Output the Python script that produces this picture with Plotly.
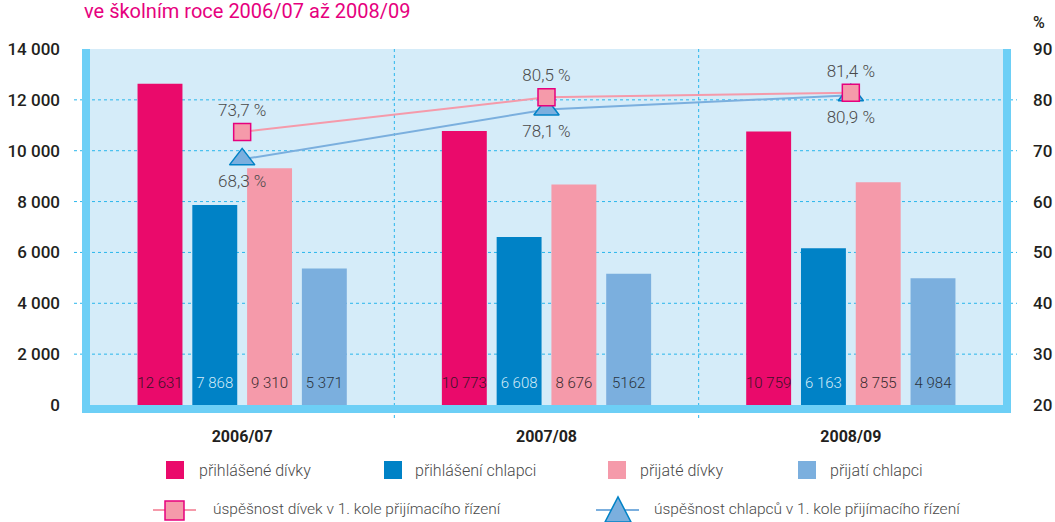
import plotly.graph_objects as go

categories = ["2006/07", "2007/08", "2008/09"]
girls_applied = [12631, 10773, 10759]
boys_applied = [7868, 6608, 6163]
girls_admitted = [9310, 8676, 8755]
boys_admitted = [5371, 5162, 4984]
girls_applied_lbl = ["12 631", "10 773", "10 759"]
boys_applied_lbl = ["7 868", "6 608", "6 163"]
girls_admitted_lbl = ["9 310", "8 676", "8 755"]
boys_admitted_lbl = ["5 371", "5162", "4 984"]
girls_success = [73.7, 80.5, 81.4]
boys_success = [68.3, 78.1, 80.9]
girls_success_lbl = ["73,7 %", "80,5 %", "81,4 %"]
boys_success_lbl = ["68,3 %", "78,1 %", "80,9 %"]
left_ticks = [0, 2000, 4000, 6000, 8000, 10000, 12000, 14000]
left_tick_lbl = ["0", "2 000", "4 000", "6 000", "8 000", "10 000", "12 000", "14 000"]
right_ticks = [20, 30, 40, 50, 60, 70, 80, 90]
legend_bar_names = ["přihlášené dívky", "přihlášení chlapci", "přijaté dívky", "přijatí chlapci"]
legend_line_names = ["úspěšnost dívek v 1. kole přijímacího řízení",
                     "úspěšnost chlapců v 1. kole přijímacího řízení"]

MAGENTA = "#ea0a6b"
BLUE = "#0082c6"
PINK = "#f59aaa"
LBLUE = "#7bafde"
BG = "#d5ecf9"
CYAN = "#6dcff6"
GRID = "#29b6ec"
TXT = "#4a4a4a"
DARK = "#231f20"
FONT = "Roboto, sans-serif"

W, H = 1055, 522
L, R, T, B = 90, 1003, 49, 405
PW, PH = R - L, B - T
BARGAP, GROUPGAP = 0.28, 0.18
LABEL_Y = 826  # height (in axis units) at which in-bar value labels sit


def px(x):
    return (x - L) / PW


def py(y):
    return (B - y) / PH


fig = go.Figure()
xi = list(range(len(categories)))

bar_specs = [
    (girls_applied, girls_applied_lbl, MAGENTA, "#3b1328"),
    (boys_applied, boys_applied_lbl, BLUE, "#d2ebf8"),
    (girls_admitted, girls_admitted_lbl, PINK, "#3a2a2e"),
    (boys_admitted, boys_admitted_lbl, LBLUE, "#2a3440"),
]
for (vals, lbls, col, tcol), name in zip(bar_specs, legend_bar_names):
    fig.add_trace(go.Bar(
        x=xi, y=vals, name=name, marker=dict(color=col, line=dict(width=0)),
        showlegend=False, hoverinfo="y",
    ))

# value labels near the bottom of each bar, aligned with the grouped bar slots
n = len(bar_specs)
slot = (1 - BARGAP) / n
for k, (vals, lbls, col, tcol) in enumerate(bar_specs):
    fig.add_trace(go.Scatter(
        x=[i + (k - (n - 1) / 2) * slot for i in xi], y=[LABEL_Y] * len(xi),
        mode="text", text=lbls, textposition="middle center",
        textfont=dict(family=FONT, size=15, color=tcol, weight=300),
        showlegend=False, hoverinfo="skip", cliponaxis=False,
    ))

fig.add_trace(go.Scatter(
    x=xi, y=boys_success, yaxis="y2", mode="lines+markers+text",
    line=dict(color=LBLUE, width=2),
    marker=dict(symbol="triangle-up", size=22, color=LBLUE, line=dict(color=BLUE, width=1.5)),
    text=boys_success_lbl, textposition="bottom center",
    textfont=dict(family=FONT, size=17, color=TXT, weight=300), showlegend=False, cliponaxis=False,
))
fig.add_trace(go.Scatter(
    x=xi, y=girls_success, yaxis="y2", mode="lines+markers+text",
    line=dict(color=PINK, width=2),
    marker=dict(symbol="square", size=17, color=PINK, line=dict(color="#e6007e", width=1.5)),
    text=girls_success_lbl, textposition="top center",
    textfont=dict(family=FONT, size=17, color=TXT, weight=300), showlegend=False, cliponaxis=False,
))

shapes = []
# horizontal dotted gridlines
for v in left_ticks[1:-1]:
    yy = py(B - v / 14000 * PH)
    shapes.append(dict(type="line", xref="paper", yref="paper", x0=px(74), x1=px(1017),
                       y0=yy, y1=yy, line=dict(color=GRID, width=1, dash="dot"), layer="below"))
# vertical dotted category separators
for xv in [0.5, 1.5]:
    shapes.append(dict(type="line", xref="x", yref="paper", x0=xv, x1=xv,
                       y0=1, y1=py(419), line=dict(color=GRID, width=1, dash="dot"), layer="below"))
# thick frame bars
shapes.append(dict(type="rect", xref="paper", yref="paper", x0=px(82), x1=px(90), y0=py(413), y1=1,
                   fillcolor=CYAN, line=dict(width=0), layer="above"))
shapes.append(dict(type="rect", xref="paper", yref="paper", x0=px(1003), x1=px(1011), y0=py(413), y1=1,
                   fillcolor=CYAN, line=dict(width=0), layer="above"))
shapes.append(dict(type="rect", xref="paper", yref="paper", x0=px(82), x1=px(1011), y0=py(413), y1=0,
                   fillcolor=CYAN, line=dict(width=0), layer="above"))

annotations = []
# legend row 1
leg1 = [(166, 197), (384, 413), (608, 638), (798, 828)]
for (sx, tx), (_, _, col, _), name in zip(leg1, bar_specs, legend_bar_names):
    shapes.append(dict(type="rect", xref="paper", yref="paper", x0=px(sx), x1=px(sx + 18),
                       y0=py(479), y1=py(461), fillcolor=col, line=dict(width=0)))
    annotations.append(dict(text=name, xref="paper", yref="paper", x=px(tx), y=py(470),
                            xanchor="left", yanchor="middle", showarrow=False,
                            font=dict(family=FONT, size=16, color=TXT, weight=300)))
# legend row 2
shapes.append(dict(type="line", xref="paper", yref="paper", x0=px(153), x1=px(196),
                   y0=py(510), y1=py(510), line=dict(color=PINK, width=2)))
shapes.append(dict(type="rect", xref="paper", yref="paper", x0=px(165), x1=px(184),
                   y0=py(520), y1=py(501), fillcolor=PINK, line=dict(color="#e6007e", width=1.5)))
shapes.append(dict(type="line", xref="paper", yref="paper", x0=px(596), x1=px(639),
                   y0=py(510), y1=py(510), line=dict(color=LBLUE, width=2)))
shapes.append(dict(type="path", xref="paper", yref="paper",
                   path=f"M {px(605)} {py(522)} L {px(618)} {py(497)} L {px(631)} {py(522)} Z",
                   fillcolor=LBLUE, line=dict(color=BLUE, width=1.5)))
annotations.append(dict(text=legend_line_names[0], xref="paper", yref="paper", x=px(211), y=py(509),
                        xanchor="left", yanchor="middle", showarrow=False,
                        font=dict(family=FONT, size=15.5, color=TXT, weight=300)))
annotations.append(dict(text=legend_line_names[1], xref="paper", yref="paper", x=px(652), y=py(509),
                        xanchor="left", yanchor="middle", showarrow=False,
                        font=dict(family=FONT, size=15.5, color=TXT, weight=300)))
# title (cropped at top in reference) and % unit
annotations.append(dict(text="ve školním roce 2006/07 až 2008/09", xref="paper", yref="paper",
                        x=px(82), y=py(11), xanchor="left", yanchor="middle", showarrow=False,
                        font=dict(family=FONT, size=20, color="#e6007e")))
annotations.append(dict(text="%", xref="paper", yref="paper", x=px(1031), y=py(22),
                        xanchor="left", yanchor="middle", showarrow=False,
                        font=dict(family=FONT, size=16, color=DARK, weight=500)))

fig.update_layout(
    width=W, height=H,
    margin=dict(l=L, r=W - R, t=T, b=H - B, pad=0, autoexpand=False),
    paper_bgcolor="white", plot_bgcolor=BG,
    barmode="group", bargap=BARGAP, bargroupgap=GROUPGAP,
    font=dict(family=FONT, color=DARK),
    xaxis=dict(range=[-0.5, 2.5], tickvals=xi, ticktext=categories, showgrid=False,
               zeroline=False, showline=False, ticks="", ticklabelstandoff=20, automargin=False,
               tickfont=dict(family=FONT, size=16, color=DARK, weight="bold")),
    yaxis=dict(range=[0, 14000], tickvals=left_ticks, ticktext=left_tick_lbl, showgrid=False,
               zeroline=False, showline=False, ticks="", ticklabelstandoff=29, automargin=False,
               tickfont=dict(family=FONT, size=17, color=DARK, weight=500)),
    yaxis2=dict(range=[20, 90], tickvals=right_ticks, overlaying="y", side="right",
                showgrid=False, zeroline=False, showline=False, ticks="", ticklabelstandoff=29,
                automargin=False,
                tickfont=dict(family=FONT, size=17, color=DARK, weight=500)),
    shapes=shapes, annotations=annotations, showlegend=False,
)

fig.write_html("out.html", config={"displayModeBar": False},
               post_script="document.body.style.margin='0px';")
